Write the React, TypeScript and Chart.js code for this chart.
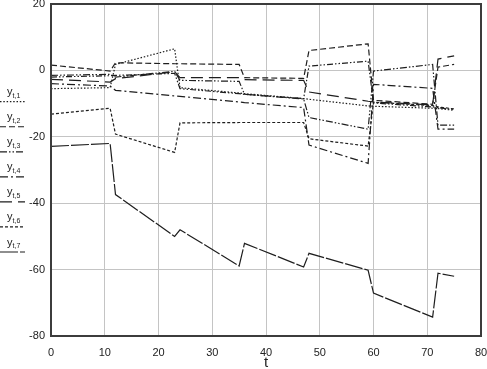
import React, { useEffect, useRef } from "react";
import { Chart, registerables } from "chart.js";

Chart.register(...registerables);

// time steps (common break points of all series)
const T = [0, 11, 12, 23, 24, 35, 36, 47, 48, 59, 60, 71, 72, 75];

// series values
const Y1 = [-5.5, -5.2, 1.8, 6.5, -5.2, -6.8, -7.0, -8.5, -8.7, -10.7, -10.8, -11.4, -11.5, -12.0];
const Y2 = [1.6, -0.2, 2.3, 2.0, 2.0, 1.8, -2.2, -2.4, 6.0, 8.0, -9.0, -10.2, 1.0, 1.8];
const Y3 = [-1.5, -1.2, -2.0, -0.3, -3.0, -3.3, -7.2, -8.6, -14.2, -17.7, -0.2, 1.8, -16.5, -16.5];
const Y4 = [-4.0, -4.7, -6.0, -7.7, -7.8, -9.5, -9.7, -11.2, -22.5, -28.0, -4.2, -5.4, -17.7, -17.7];
const Y5 = [-2.7, -3.5, -2.5, -0.4, -2.2, -2.2, -2.8, -3.0, -6.5, -9.3, -9.5, -10.4, 3.4, 4.4];
const Y6 = [-13.2, -11.4, -19.2, -24.7, -15.8, -15.7, -15.7, -15.7, -20.6, -22.8, -9.6, -10.6, -11.0, -11.6];
const Y7 = [-22.9, -22.0, -37.4, -50.0, -48.0, -58.9, -52.1, -59.2, -55.1, -60.2, -67.1, -74.3, -61.1, -62.0];
const Y8 = [-2.0, -1.6, -1.5, -0.9, -5.5, -7.0, -7.2, -8.5, 1.3, 2.8, -9.8, -11.0, -11.2, -11.8];

const LEGEND_SUBS = ["t,1", "t,2", "t,3", "t,4", "t,5", "t,6", "t,7"];
const X_TICKS = [0, 10, 20, 30, 40, 50, 60, 70, 80];
const Y_TICKS = [-80, -60, -40, -20, 0, 20];

const DASHES: number[][] = [
  [1.5, 1.8],
  [6, 3],
  [7, 2, 1.5, 2, 1.5, 2],
  [8, 3, 2, 3],
  [12, 6],
  [3, 2],
  [18, 2],
  [6, 2, 1.5, 2, 1.5, 2],
];

const FONT = "'Liberation Sans', Arial, sans-serif";

export default function App() {
  const ref = useRef<HTMLCanvasElement>(null);

  useEffect(() => {
    document.body.style.margin = "0";
    const canvas = ref.current;
    if (!canvas) return;
    const series = [Y1, Y2, Y3, Y4, Y5, Y6, Y7, Y8];
    const datasets = series.map((ys, i) => ({
      label: i < 7 ? "y" + LEGEND_SUBS[i] : "",
      data: T.map((t, j) => ({ x: t, y: ys[j] })),
      borderColor: "#1e1e1e",
      borderWidth: 1.2,
      borderDash: DASHES[i],
      pointRadius: 0,
      fill: false,
      tension: 0,
    }));

    const frame = {
      id: "frame",
      afterDraw(chart: any) {
        const { ctx, chartArea: a } = chart;
        ctx.save();
        ctx.strokeStyle = "#3c3c3c";
        ctx.lineWidth = 2;
        ctx.setLineDash([]);
        ctx.strokeRect(a.left, a.top, a.right - a.left, a.bottom - a.top);
        ctx.restore();
      },
    };

    const subLegend = {
      id: "subLegend",
      afterDraw(chart: any) {
        const ctx = chart.ctx;
        ctx.save();
        for (let i = 0; i < LEGEND_SUBS.length; i++) {
          const ly = 101.7 + i * 25.05;
          ctx.strokeStyle = "#1e1e1e";
          ctx.lineWidth = 1.2;
          ctx.setLineDash(DASHES[i]);
          ctx.beginPath();
          ctx.moveTo(0, ly);
          ctx.lineTo(25, ly);
          ctx.stroke();
          ctx.setLineDash([]);
          ctx.fillStyle = "#222";
          ctx.textBaseline = "alphabetic";
          ctx.textAlign = "left";
          ctx.font = `11px ${FONT}`;
          ctx.fillText("y", 7, ly - 6.5);
          const w = ctx.measureText("y").width;
          ctx.font = `7px ${FONT}`;
          ctx.fillText(LEGEND_SUBS[i], 7 + w, ly - 4);
        }
        ctx.restore();
      },
    };

    const chart = new Chart(canvas, {
      type: "line",
      data: { datasets },
      options: {
        animation: false,
        responsive: false,
        layout: { padding: { left: 24, right: 6, top: 4, bottom: 0 } },
        plugins: { legend: { display: false }, tooltip: { enabled: false } },
        scales: {
          x: {
            type: "linear",
            min: 0,
            max: 80,
            afterBuildTicks: (s: any) => {
              s.ticks = X_TICKS.map((v) => ({ value: v }));
            },
            afterFit: (s: any) => {
              s.height = 33;
              s.paddingLeft = 0;
              s.paddingRight = 0;
            },
            grid: { color: "#c4c4c4", lineWidth: 1, drawTicks: false },
            border: { display: false },
            ticks: { color: "#222", font: { family: FONT, size: 11 }, padding: 10, maxRotation: 0 },
            title: {
              display: true,
              text: "t",
              color: "#222",
              font: { family: FONT, size: 15, lineHeight: 1 },
              padding: { top: 0, bottom: -1 },
            },
          },
          y: {
            type: "linear",
            min: -80,
            max: 20,
            afterBuildTicks: (s: any) => {
              s.ticks = Y_TICKS.map((v) => ({ value: v }));
            },
            afterFit: (s: any) => {
              s.width = 27;
              s.paddingTop = 0;
              s.paddingBottom = 0;
            },
            grid: { color: "#c4c4c4", lineWidth: 1, drawTicks: false },
            border: { display: false },
            ticks: { color: "#222", font: { family: FONT, size: 11 }, padding: 6 },
          },
        },
      },
      plugins: [frame, subLegend],
    } as any);
    return () => chart.destroy();
  }, []);

  return (
    <div style={{ width: 487, height: 369 }}>
      <canvas ref={ref} width={487} height={369} style={{ display: "block" }} />
    </div>
  );
}
